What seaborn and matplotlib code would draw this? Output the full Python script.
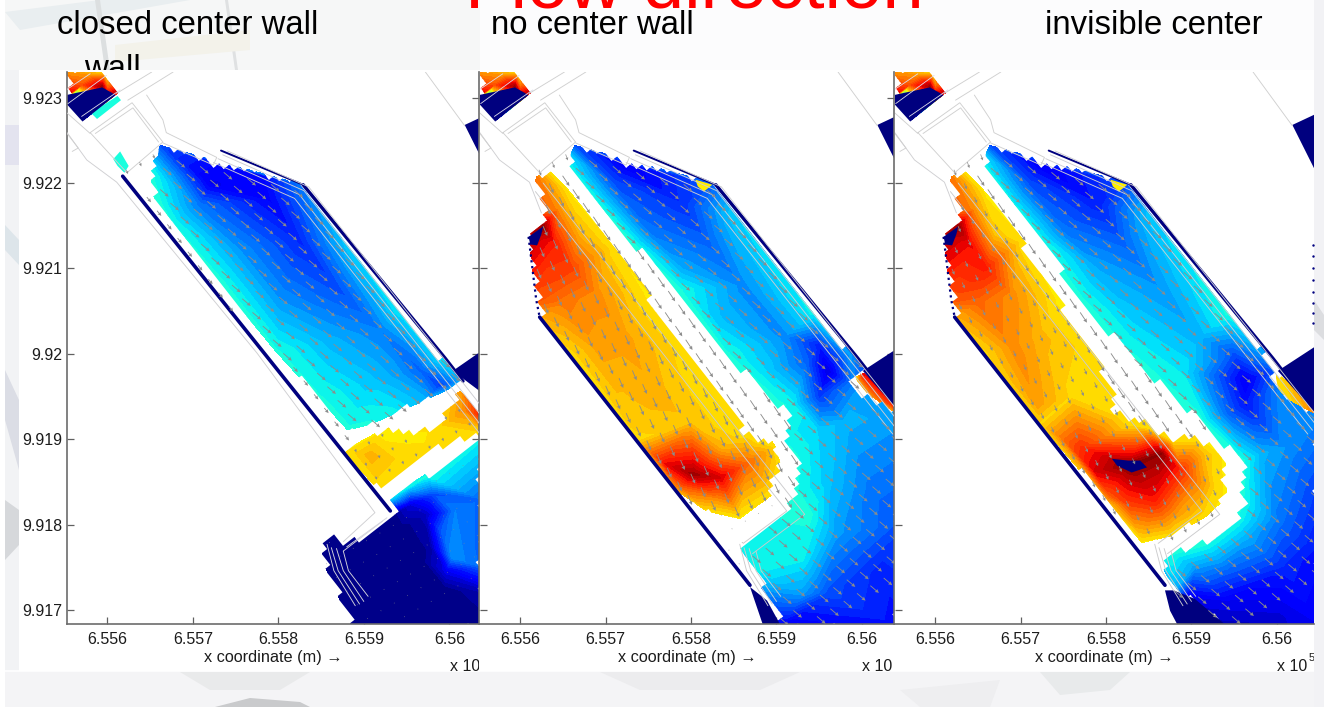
import numpy as np
import matplotlib
matplotlib.use("Agg")
import matplotlib.pyplot as plt
import seaborn as sns
from matplotlib.path import Path
from matplotlib.patches import Polygon, Rectangle
from matplotlib.transforms import Bbox

# ---- data: (km east of 6.556e5, km north of 9.917, jet level 0-1) ----
titles = ["closed center wall", "no center wall", "invisible center"]
x_ticks = [6.556, 6.557, 6.558, 6.559, 6.56]
x_tick_labels = ["6.556", "6.557", "6.558", "6.559", "6.56"]
y_ticks = [9.917, 9.918, 9.919, 9.92, 9.921, 9.922, 9.923]
y_tick_labels = ["9.917", "9.918", "9.919", "9.92", "9.921", "9.922", "9.923"]

blob_edge = [(-.48, 6.31, .74), (-.04, 6.31, .67), (.14, 6.07, .95), (-.3, 5.72, .0), (-.48, 5.93, .0)]
blob_core = [(-.2, 6.25, .76), (-.3, 6.15, .82), (.0, 6.17, .74), (-.06, 6.13, .97), (-.47, 6.03, .93), (.0, 6.05, .9)]
navy_band = [(-.48, 6.03), (-.06, 6.12), (.10, 6.03), (-.29, 5.72), (-.48, 5.93)]
navy_corner = [(4.18, 5.68), (4.5, 5.83), (4.5, 5.04)]

p1_basin_edge = [(.62, 5.44, .2), (1.26, 5.2, .12), (1.81, 5.09, .12), (2.29, 4.98, .25), (2.84, 4.24, .33),
                 (3.42, 3.54, .36), (3.89, 2.95, .35), (4.16, 2.69, .3), (3.98, 2.58, .27), (3.72, 2.46, .3),
                 (3.36, 2.32, .36), (3.07, 2.17, .38), (2.81, 2.11, .38), (2.49, 2.46, .38), (1.98, 3.02, .38),
                 (1.37, 3.81, .38), (.76, 4.51, .38), (.56, 4.74, .4), (.5, 5.15, .38)]
p1_basin_core = [(1.2, 5.0, .1), (1.9, 4.8, .12), (1.08, 4.74, .24), (2.25, 4.33, .16), (1.55, 4.22, .27),
                 (2.72, 3.75, .2), (2.02, 3.63, .27), (3.19, 3.28, .25), (2.61, 3.16, .3), (3.66, 2.81, .22),
                 (3.89, 2.63, .18), (3.07, 2.69, .32), (3.42, 2.75, .28)]
p1_yellow_edge = [(2.76, 1.86, .66), (3.16, 2.08, .66), (3.54, 2.03, .66), (3.86, 2.12, .67), (3.95, 2.33, .69),
                  (4.13, 2.56, .74), (4.4, 2.27, .9), (4.4, 2.06, .68), (3.81, 1.92, .67), (3.19, 1.39, .67)]
p1_yellow_core = [(3.07, 1.81, .72), (3.43, 1.76, .68), (4.18, 2.34, .76)]
p1_lower_edge = [(3.33, 1.1, .0), (3.31, 1.32, .36), (3.74, 1.57, .38), (4.4, 2.03, .36), (4.4, 1.29, .22),
                 (4.4, .5, .22), (4.4, .22, .05), (4.4, -.2, .0), (2.86, -.2, .0), (2.69, .19, .0), (2.55, .5, .0),
                 (2.49, .77, .0), (2.69, .91, .0), (2.8, .74, .0), (3.22, 1.04, .0)]
p1_lower_core = [(3.54, 1.23, .08), (3.72, 1.11, .05), (3.77, .76, .03), (3.97, .46, .1), (4.04, .62, .27),
                 (3.89, .94, .2), (4.07, 1.17, .25), (3.81, 1.36, .2), (3.54, 1.41, .3), (3.95, .23, .0),
                 (3.66, .59, .0), (3.42, .94, .0)]
p1_navy_east = [(4.04, 2.8), (4.4, 3.05), (4.4, 2.53)]
p1_cyan_a = [(.12, 6.02), (.16, 5.97), (-.12, 5.75), (-.19, 5.82)]
p1_cyan_b = [(.07, 5.28), (.15, 5.37), (.25, 5.2), (.2, 5.12), (.12, 5.2)]

p2_east_edge = [(.64, 5.44, .2), (1.25, 5.21, .1), (2.26, 5.0, .22), (2.5, 4.64, .33), (3.43, 3.47, .36),
                (3.86, 3.0, .28), (4.02, 2.84, .2), (3.9, 2.65, .25), (3.94, 2.53, .28), (4.45, 2.3, .28),
                (4.45, 1.0, .2), (4.45, -.2, .13), (3.06, -.2, .1), (2.96, .03, .2), (2.77, .46, .36),
                (2.57, .75, .36), (2.77, .89, .36), (3.12, 1.16, .38), (3.22, 1.4, .38), (3.24, 1.75, .38),
                (3.06, 2.1, .37), (3.18, 2.39, .37), (3.04, 2.41, .38), (2.42, 3.0, .38), (1.87, 3.75, .38),
                (1.36, 4.25, .38), (.92, 4.74, .38), (.58, 5.15, .38), (.58, 5.31, .34)]
p2_east_core = [(1.1, 5.0, .2), (1.9, 4.75, .17), (1.5, 4.45, .24), (2.2, 4.3, .22), (1.9, 4.0, .29), (2.6, 3.8, .26),
                (2.3, 3.4, .32), (3.1, 3.2, .26), (2.9, 2.8, .33), (3.5, 3.1, .15), (3.6, 2.8, .08), (3.5, 2.5, .18),
                (3.35, 2.9, .22), (3.5, 2.1, .33), (3.8, 2.2, .3), (3.6, 1.5, .32), (3.4, 1.1, .38), (3.3, .6, .36),
                (3.7, .9, .28), (4.1, 1.4, .24), (4.2, .5, .16), (3.6, .2, .2), (3.3, .2, .28)]
p2_west_edge = [(.19, 5.07, .78), (.35, 5.14, .66), (.58, 4.9, .66), (1.09, 4.25, .67), (1.48, 3.71, .66),
                (1.97, 3.0, .67), (2.65, 2.06, .67), (2.77, 1.96, .68), (2.98, 1.93, .67), (3.06, 1.67, .66),
                (2.96, 1.36, .67), (2.57, 1.07, .66), (2.18, 1.16, .67), (1.83, 1.4, .72), (1.36, 1.98, .68),
                (.55, 3.0, .67), (.23, 3.4, .72), (.31, 3.47, .74), (.19, 3.63, .82), (.1, 4.37, .95), (.27, 4.49, .98),
                (.25, 4.65, .82)]
p2_west_core = [(.4, 4.3, .88), (.6, 4.0, .84), (.5, 3.6, .78), (.9, 3.7, .76), (1.2, 3.2, .74), (.9, 3.1, .74),
                (.45, 4.7, .76), (.7, 4.4, .72), (1.6, 2.5, .72), (1.2, 2.4, .7), (2.0, 2.2, .7), (2.35, 1.9, .72),
                (1.7, 1.71, .9), (2.03, 1.59, .97), (2.34, 1.55, .92), (2.65, 1.71, .8), (2.85, 1.83, .74),
                (2.3, 1.3, .76), (1.9, 1.45, .82)]
p2_red_edge = [(3.94, 2.73, .67), (4.02, 2.77, .9), (4.45, 2.37, .9), (4.45, 2.27, .72), (4.13, 2.49, .76), (3.94, 2.65, .67)]

p3_east_edge = [(.64, 5.44, .2), (1.25, 5.21, .1), (2.26, 5.0, .2), (2.5, 4.64, .32), (3.43, 3.47, .38), (3.86, 3.0, .28),
                (3.94, 2.8, .2), (4.0, 2.57, .25), (4.5, 2.25, .25), (4.5, 1.24, .17), (4.5, .65, .13), (4.5, -.2, .1),
                (3.43, -.2, .05), (2.96, .15, .1), (2.79, .23, .3), (2.65, .58, .35), (2.77, .66, .38), (2.92, .7, .38),
                (3.16, .77, .38), (3.51, 1.05, .38), (3.6, 1.28, .38), (3.61, 1.75, .38), (3.12, 2.22, .38), (2.26, 3.0, .38),
                (1.72, 3.63, .38), (1.25, 4.29, .38), (.9, 4.72, .38), (.58, 5.15, .38), (.58, 5.31, .34)]
p3_east_core = [(1.1, 5.0, .2), (1.9, 4.75, .15), (1.5, 4.45, .24), (2.2, 4.3, .22), (1.9, 4.0, .29), (2.6, 3.8, .27),
                (2.3, 3.4, .33), (3.1, 3.2, .3), (2.9, 2.8, .35), (3.63, 2.69, .1), (3.5, 3.0, .2), (3.63, 2.41, .14),
                (3.43, 2.3, .22), (3.82, 1.83, .3), (4.1, 1.9, .27), (4.02, 1.05, .24), (3.63, .85, .3), (3.43, .46, .22),
                (3.04, .5, .28), (4.02, -.05, .08), (3.43, .1, .1), (4.1, .5, .16)]
p3_west_edge = [(.19, 5.07, .78), (.35, 5.14, .66), (.58, 4.9, .66), (1.01, 4.33, .67), (1.44, 3.63, .66), (1.87, 3.0, .67),
                (2.1, 2.53, .67), (2.14, 2.28, .68), (2.26, 2.16, .68), (2.5, 2.12, .68), (2.77, 1.98, .68), (3.08, 2.0, .67),
                (3.39, 1.79, .66), (3.41, 1.32, .66), (3.16, 1.09, .67), (2.77, .87, .67), (2.42, .79, .66), (2.03, 1.24, .7),
                (1.23, 2.18, .68), (.55, 3.0, .67), (.23, 3.4, .72), (.31, 3.47, .74), (.19, 3.63, .82), (.1, 4.37, .95),
                (.27, 4.49, .98), (.25, 4.65, .82)]
p3_west_core = [(.4, 4.3, .9), (.6, 4.0, .88), (.5, 3.6, .8), (.9, 3.7, .76), (1.2, 3.2, .72), (.9, 3.1, .76), (.45, 4.7, .76),
                (.7, 4.4, .7), (1.6, 2.5, .68), (1.2, 2.4, .74), (1.9, 2.6, .67), (1.0, 2.9, .76), (1.48, 2.02, .78), (1.72, 1.9, .86),
                (1.87, 1.63, .92), (2.03, 1.36, .82), (2.26, 1.69, .99), (2.65, 1.83, .98), (2.88, 1.63, .86), (3.04, 1.52, .78),
                (2.57, 1.28, .88), (2.85, 1.13, .74), (2.26, 1.24, .84), (2.45, 2.1, .72), (3.16, 1.83, .7), (3.28, 1.44, .68)]
p3_navy_spot = [(2.07, 1.77), (2.26, 1.75), (2.4, 1.75), (2.48, 1.67), (2.3, 1.61), (2.13, 1.69)]
p3_red_edge = [(4.0, 2.77, .67), (4.5, 2.37, .8), (4.5, 2.27, .8), (4.17, 2.45, .68), (4.0, 2.6, .68)]
p3_navy_foot = [(2.69, .23), (2.75, -.01), (2.85, -.2), (3.43, -.2), (3.04, .13), (2.79, .23)]
p2_navy_foot = [(2.69, .27), (2.85, -.2), (3.06, -.2), (2.89, .11)]
navy_notch = [(.1, 4.37), (.27, 4.49), (.25, 4.4), (.2, 4.27), (.12, 4.28)]
yellow_fleck = [(2.05, 5.04), (2.25, 4.98), (2.15, 4.9), (2.08, 4.96)]
p23_navy_east = [(4.01, 2.8), (4.5, 3.12), (4.5, 2.25)]

sw_wall_p1 = [(.18, 5.08), (3.31, 1.16)]
sw_wall_p23 = [(.23, 3.43), (2.69, .29)]
west_wall_p23 = [(.1, 4.37), (.19, 3.63), (.23, 3.43)]
ne_wall_top = [(1.33, 5.38), (2.29, 4.98)]
ne_wall = [(2.29, 4.98), (3.95, 2.95), (4.16, 2.68)]

outer_p1 = [(-.47, 5.59), (-.24, 5.27), (.11, 5.01), (1.75, 3.01), (3.13, 1.14), (2.76, .8)]
outer_p23 = [(-.47, 5.59), (-.24, 5.27), (.11, 5.01), (.25, 4.65)]
stub = [(-.47, 5.58), (-.34, 5.41), (-.41, 5.37)]
box_line = [(-.2, 5.59), (.29, 5.94), (.65, 5.48), (.23, 5.12), (-.2, 5.59)]
box_inner = [(-.14, 5.58), (.3, 5.88), (.6, 5.48)]
inlet_a = [(.24, 5.97), (.77, 6.3)]
inlet_b = [(.11, 6.05), (.52, 6.3)]
inlet_c = [(-.47, 5.82), (-.2, 5.58)]
blob_line_a = [(-.3, 5.78), (.15, 6.09)]
blob_line_b = [(-.46, 5.93), (-.01, 6.26)]
blob_line_c = [(-.48, 6.09), (-.2, 6.28)]
harbor = [(.46, 6.03), (.65, 5.74), (.69, 5.59), (1.28, 5.3), (1.24, 5.21), (.65, 5.47)]
far_line = [(3.72, 6.3), (4.18, 5.67)]
ne_lines = [(1.24, 5.24), (2.19, 4.82), (4.36, 2.06)]
ne_offsets = [0.0, .055, .11, .165]
center_a = [(.27, 5.0), (3.33, 1.12), (2.72, .66)]
center_b = [(.18, 4.9), (3.12, 1.16), (2.61, .78)]
break_a = [(2.57, .77), (2.65, .46), (2.9, .05)]
break_b = [(2.62, .73), (2.7, .46), (2.95, .07)]
break_c = [(2.68, .72), (2.76, .46), (3.0, .1)]
break_d = [(2.76, .69), (2.82, .46), (3.05, .16)]
break_link_a = [(2.8, .74), (3.27, 1.08)]
break_link_b = [(2.76, .69), (3.22, 1.04)]

arrow_along = [0.0, .2, .4, .6, .8, 1.0, 1.2, 1.4, 1.6, 1.8, 2.0, 2.2, 2.4, 2.6, 2.8, 3.0, 3.2, 3.4, 3.6, 3.8, 4.0, 4.2, 4.4, 4.6,
               4.8, 5.0, 5.2, 5.4, 5.6, 5.8, 6.0, 6.2]
arrow_across = [-1.5, -1.3, -1.1, -.9, -.7, -.5, -.3, -.1, .1, .3, .5, .7, .9, 1.1, 1.3, 1.5, 1.7, 1.9, 2.1, 2.3, 2.5, 2.7, 2.9, 3.1,
                3.3, 3.5]

box_zone = [(-.2, 5.59), (.29, 5.94), (.65, 5.48), (.58, 5.2), (.23, 5.0), (.2, 5.12)]
strip_zone_p1 = [(.2, 5.1), (.56, 4.74), (2.81, 2.11), (2.76, 1.86)]
gap_zone_p2 = [(.35, 5.14), (.58, 5.15), (2.42, 3.0), (3.04, 2.41), (3.18, 2.39), (3.06, 2.1), (3.24, 1.75), (3.22, 1.4),
               (3.12, 1.16), (2.96, 1.36), (3.06, 1.67), (2.98, 1.93), (2.65, 2.06), (.58, 4.9)]
gap_zone_p3 = [(.35, 5.14), (.58, 5.15), (2.26, 3.0), (3.12, 2.22), (3.08, 2.0), (2.5, 2.12), (2.14, 2.28), (1.87, 3.0), (.58, 4.9)]
flat_zone_p2 = [(2.18, 1.16), (2.57, 1.07), (2.96, 1.36), (3.12, 1.16), (2.57, .75), (2.65, .34)]

# ---- style ----
sns.set_theme(style="white", rc={"axes.grid": False})
plt.rcParams["font.family"] = ["Liberation Sans", "DejaVu Sans"]
JET = plt.get_cmap("jet")
LEVELS = np.linspace(0, 1, 49)
NAVY = "#00007f"
W, H = 1324, 707
X0, Y0 = 6.556, 9.917
CELL = .085
GRID_ANGLE = np.radians(38)


def to_xy(pts):
    a = np.asarray(pts, dtype=float)
    return X0 + a[:, 0] / 1000, Y0 + a[:, 1] / 1000


def staircase(edge):
    """Outline of a region as the model's stair-stepped cell edges."""
    c, s = np.cos(GRID_ANGLE), np.sin(GRID_ANGLE)
    a = np.array([(p[0], p[1]) for p in edge] + [(edge[0][0], edge[0][1])], float)
    out = []
    for (u0, v0), (u1, v1) in zip(a[:-1], a[1:]):
        n = max(1, int(np.hypot(u1 - u0, v1 - v0) / CELL))
        for t in np.arange(n) / n:
            uu, vv = u0 + t * (u1 - u0), v0 + t * (v1 - v0)
            p = np.round((c * uu + s * vv) / CELL) * CELL
            q = np.round((-s * uu + c * vv) / CELL) * CELL
            if out:
                out.append((p, out[-1][1]))
            out.append((p, q))
    o = np.array(out)
    return np.column_stack([c * o[:, 0] - s * o[:, 1], s * o[:, 0] + c * o[:, 1]])


def region(ax, edge, core=(), z=1):
    pts = list(edge) + list(core)
    x, y = to_xy(pts)
    v = np.array([p[2] for p in pts])
    cs = ax.tricontourf(x, y, v, levels=LEVELS, cmap=JET, vmin=0, vmax=1, zorder=z, antialiased=False)
    ex, ey = to_xy(staircase(edge))
    verts = np.column_stack([np.r_[ex, ex[0]], np.r_[ey, ey[0]]])
    cs.set_clip_path(Path(verts, closed=True), ax.transData)


def solid(ax, pts, color=NAVY, z=2):
    x, y = to_xy(pts)
    ax.add_patch(Polygon(np.column_stack([x, y]), closed=True, fc=color, ec="none", zorder=z))


def wire(ax, pts, color="#cfcfd2", lw=.65, z=4, **kw):
    x, y = to_xy(pts)
    sns.lineplot(x=x, y=y, sort=False, estimator=None, color=color, lw=lw, ax=ax, legend=False, zorder=z, **kw)


def arrows(ax, zones):
    al, ac = np.meshgrid(arrow_along, arrow_across)
    u = .3 + .6 * al.ravel() + .78 * ac.ravel()
    v = 5.2 - .8 * al.ravel() + .45 * ac.ravel()
    pts = np.column_stack([u, v])
    used = np.zeros(len(pts), bool)
    for zone, (du, dv), wid in zones:
        z = [(p[0], p[1]) for p in zone]
        hit = Path(np.array(z + z[:1]), closed=True).contains_points(pts) & ~used
        used |= hit
        if hit.any():
            ax.quiver(X0 + u[hit] / 1000, Y0 + v[hit] / 1000, np.full(hit.sum(), du / 1000), np.full(hit.sum(), dv / 1000),
                      angles="xy", scale_units="xy", scale=1, color="#8c8c8c", width=wid, headwidth=4.5,
                      headlength=4.5, headaxislength=4, zorder=5)


fig = plt.figure(figsize=(W / 100, H / 100), dpi=100, facecolor="#fcfcfd")

# ---- marbled slide background ----
bg = fig.add_axes([0, 0, 1, 1], zorder=0)
bg.set_xlim(0, W)
bg.set_ylim(H, 0)
bg.axis("off")
bg.set_facecolor("none")
marble = [
    ([(5, 0), (480, 0), (480, 70), (5, 70)], "#f6f7f7"), ([(5, 12), (100, 0), (190, 0), (20, 30)], "#e9eef0"),
    ([(95, 0), (105, 70), (110, 70), (100, 0)], "#dcdfe0"), ([(225, 0), (235, 70), (238, 70), (228, 0)], "#dfe1e2"),
    ([(115, 45), (250, 30), (250, 50), (115, 62)], "#f3f2ea"), ([(5, 70), (19, 70), (19, 670), (5, 670)], "#f2f3f5"),
    ([(5, 125), (19, 125), (19, 165), (5, 165)], "#e3e3ef"), ([(5, 225), (19, 240), (19, 265), (5, 250)], "#dde5ea"),
    ([(5, 370), (19, 400), (19, 470), (5, 420)], "#dbdde5"), ([(5, 500), (19, 510), (19, 545), (5, 560)], "#d6d8db"),
    ([(5, 672), (W, 672), (W, H), (5, H)], "#f4f4f6"), ([(180, 672), (310, 672), (280, 690), (210, 690)], "#e9eaeb"),
    ([(215, 707), (250, 698), (300, 702), (310, 707)], "#c9cacc"), ([(600, 672), (800, 672), (760, 690), (640, 690)], "#ececee"),
    ([(1040, 672), (1130, 672), (1110, 690), (1060, 695)], "#e8eaeb"), ([(1314, 0), (W, 0), (W, H), (1314, H)], "#f2f2f5"),
    ([(1314, 300), (W, 315), (W, 340), (1314, 330)], "#dcdde0"), ([(900, 690), (1000, 680), (990, 707), (920, 707)], "#eeeef0"),
    ([(0, 0), (5, 0), (5, H), (0, H)], "#ffffff"),
]
for verts, col in marble:
    bg.add_patch(Polygon(verts, closed=True, fc=col, ec="none"))

fig.text(112 / W, 1 - 78 / H, "wall", fontsize=23.7, ha="center", va="baseline", color="black", zorder=.5)
fig.add_artist(Rectangle((19 / W, 1 - 671 / H), (1314 - 19) / W, 601 / H, transform=fig.transFigure, fc="white", ec="none", zorder=1))

fig.text(694 / W, 1 - 8 / H, "Flow direction", color="#ff0000", fontsize=53.6, ha="center", va="baseline", zorder=3)
fig.text(57 / W, 1 - 34.5 / H, titles[0], fontsize=23.7, ha="left", va="baseline", color="black", zorder=3)
fig.text(491 / W, 1 - 34.5 / H, titles[1], fontsize=23.7, ha="left", va="baseline", color="black", zorder=3)
fig.text(1045 / W, 1 - 34.5 / H, titles[2], fontsize=23.7, ha="left", va="baseline", color="black", zorder=3)

# ---- panels ----
boxes = [(66.5, 479.0, -.477, 4.347), (480.0, 894.3, -.468, 4.378), (895.0, 1314.0, -.468, 4.433)]
axes = []
for i, (l, r, umin, umax) in enumerate(boxes):
    ax = fig.add_axes([l / W, 1 - 623.5 / H, (r - l) / W, (623.5 - 72) / H], zorder=2, facecolor="white")
    axes.append(ax)

p1, p2, p3 = axes

# panel 1
region(p1, p1_basin_edge, p1_basin_core)
region(p1, p1_yellow_edge, p1_yellow_core)
region(p1, p1_lower_edge, p1_lower_core)
solid(p1, p1_navy_east)
solid(p1, p1_cyan_a, JET(.38))
solid(p1, p1_cyan_b, JET(.38))
wire(p1, sw_wall_p1, NAVY, 2.6, 3)
wire(p1, outer_p1)
for brk in (break_a, break_b, break_c, break_d, break_link_a, break_link_b):
    wire(p1, brk, "#d4d4dc")
arrows(p1, [(box_zone, (.02, -.05), .0016), (strip_zone_p1, (.05, -.06), .002),
            (p1_basin_edge, (.1, -.085), .0021), (p1_yellow_edge, (.015, -.04), .0016),
            (p1_lower_edge, (.006, -.01), .0016)])

# panel 2
region(p2, p2_east_edge, p2_east_core)
region(p2, p2_west_edge, p2_west_core)
region(p2, p2_red_edge)
solid(p2, p23_navy_east)
solid(p2, p2_navy_foot)
solid(p2, navy_notch)
solid(p2, yellow_fleck, JET(.66))
wire(p2, sw_wall_p23, NAVY, 2.6, 3)
wire(p2, west_wall_p23, NAVY, 1.6, 3, linestyle=":")
wire(p2, outer_p23)
for brk in (center_a, center_b, break_a, break_b, break_c, break_d):
    wire(p2, brk, "#cbcbcd")
arrows(p2, [(box_zone, (.025, -.07), .0016), (gap_zone_p2, (.08, -.12), .0021), (flat_zone_p2, (.004, -.012), .0016),
            (p2_west_edge, (.05, -.115), .0021), (p2_east_edge, (.1, -.085), .0021)])

# panel 3
region(p3, p3_east_edge, p3_east_core)
region(p3, p3_west_edge, p3_west_core)
region(p3, p3_red_edge)
solid(p3, p23_navy_east)
solid(p3, p3_navy_foot)
solid(p3, navy_notch)
solid(p3, p3_navy_spot)
solid(p3, yellow_fleck, JET(.66))
wire(p3, sw_wall_p23, NAVY, 2.6, 3)
wire(p3, west_wall_p23, NAVY, 1.6, 3, linestyle=":")
wire(p3, outer_p23)
for brk in (center_a, center_b, break_a, break_b, break_c, break_d):
    wire(p3, brk, "#cbcbcd")
arrows(p3, [(box_zone, (.025, -.07), .0016), (gap_zone_p3, (.08, -.12), .0021),
            (p3_west_edge, (.03, -.07), .0018), (p3_east_edge, (.1, -.085), .0021)])

right_dots_v = [4.27, 4.14, 4.0, 3.86, 3.72, 3.6, 3.48, 3.36]
sns.scatterplot(x=[X0 + 4.42 / 1000] * len(right_dots_v), y=[Y0 + q / 1000 for q in right_dots_v], color=NAVY, s=3,
                linewidth=0, ax=p3, legend=False, zorder=6)

# shared furniture
for idx, (ax, (l, r, umin, umax)) in enumerate(zip(axes, boxes)):
    region(ax, blob_edge, blob_core, z=1)
    solid(ax, navy_band)
    solid(ax, navy_corner)
    wire(ax, ne_wall_top, NAVY, 1.4, 3)
    wire(ax, ne_wall, NAVY, 2.4, 3)
    for s in ne_offsets:
        wire(ax, [(a + s, b + s * .82) for a, b in ne_lines], "#cdcdd2")
    for ln in (stub, box_line, box_inner, inlet_a, inlet_b, inlet_c, harbor, far_line):
        wire(ax, ln, "#d0d0d0")
    for ln in (blob_line_a, blob_line_b, blob_line_c):
        wire(ax, ln, "#dcdce8", .6)
    ax.set_xlim(X0 + umin / 1000, X0 + umax / 1000)
    ax.set_ylim(Y0 - .158 / 1000, Y0 + 6.30 / 1000)
    ax.set_xticks(x_ticks)
    ax.set_xticklabels(x_tick_labels)
    ax.set_yticks(y_ticks)
    ax.set_yticklabels(y_tick_labels if ax is p1 else [])
    ax.tick_params(axis="both", direction="in", length=5, width=.9, color="#606060", labelsize=11.5,
                   labelcolor="#1c1c1c", left=True, bottom=True, right=ax is not p3)
    ax.tick_params(axis="x", pad=6)
    ax.tick_params(axis="y", pad=3.2)
    ax.set_xlabel("x coordinate (m) \u2192", fontsize=11.7, color="#1c1c1c", labelpad=2)
    ax.set_ylabel("")
    for name, sp in ax.spines.items():
        sp.set_color("#6c6c6c")
        sp.set_linewidth(1.2)
    ax.spines["top"].set_visible(False)
    ax.spines["left"].set_visible(ax is p1)
    ax.spines["right"].set_visible(ax is not p3)
    t = fig.text((l + [383.5, 382, 382][idx]) / W, 1 - 671 / H, "x 10", fontsize=11.5,
                 color="#1c1c1c", ha="left", va="baseline", zorder=3)
    t.set_clip_box(Bbox([[0, 0], [r, H]]))
    t.set_clip_on(True)
    t5 = fig.text((l + [415.5, 414, 414][idx]) / W, 1 - 661 / H, "5", fontsize=8, color="#1c1c1c",
                  ha="left", va="baseline", zorder=3)
    t5.set_clip_box(Bbox([[0, 0], [r, H]]))
    t5.set_clip_on(True)

fig.savefig("out.png", dpi=100, facecolor=fig.get_facecolor())
